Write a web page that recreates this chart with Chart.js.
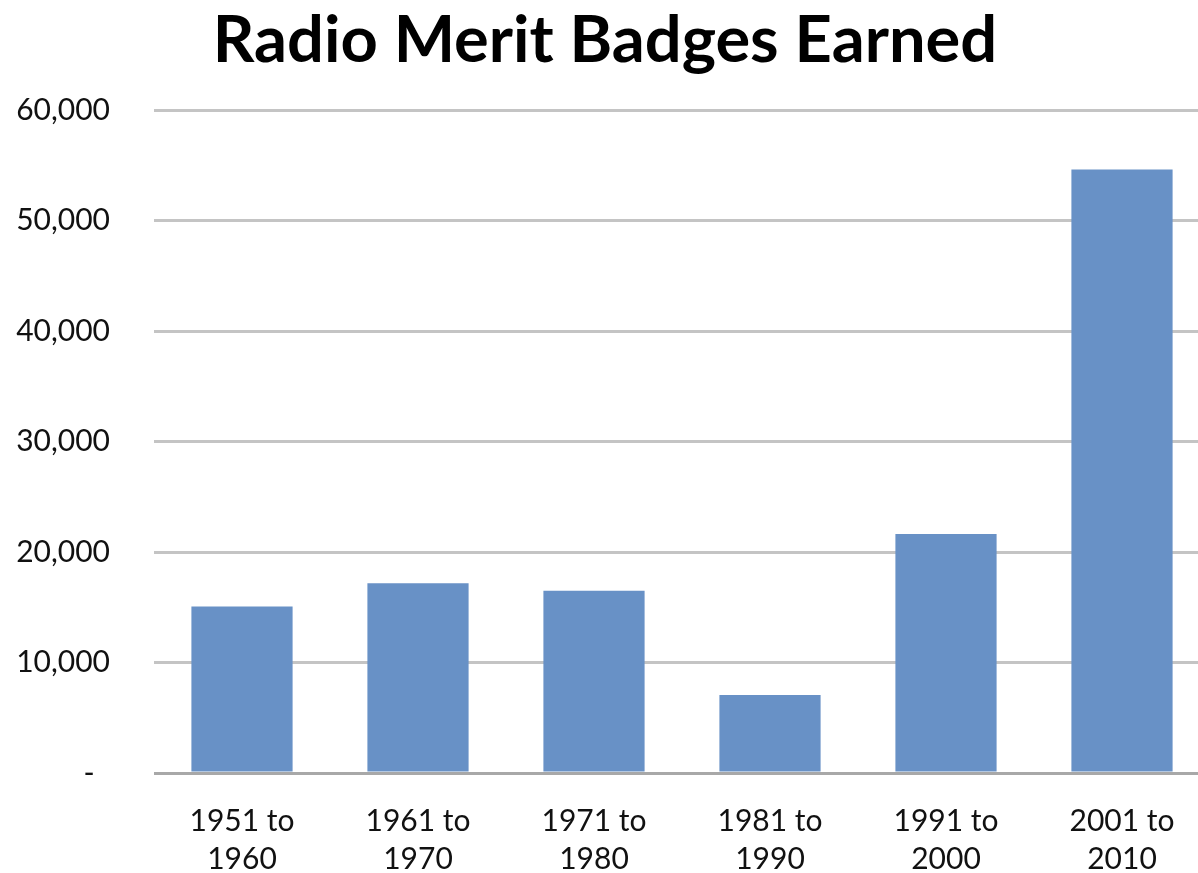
<!DOCTYPE html>
<html>
<head>
<meta charset="utf-8">
<title>Radio Merit Badges Earned</title>
<script src="https://cdn.jsdelivr.net/npm/chart.js@4/dist/chart.umd.min.js"></script>
<style>
    html, body { margin: 0; padding: 0; background: #fff; overflow: hidden; }
    #wrap { width: 1210px; height: 873px; }
</style>
</head>
<body>
<div id="wrap"><canvas id="badgeChart" width="1210" height="873"></canvas></div>
<script>
const decades = [
    ['1951 to', '1960'],
    ['1961 to', '1970'],
    ['1971 to', '1980'],
    ['1981 to', '1990'],
    ['1991 to', '2000'],
    ['2001 to', '2010']
];
const badgesEarned = [15060, 17180, 16490, 7070, 21620, 54620];
const yTicks = [0, 10000, 20000, 30000, 40000, 50000, 60000];

const fontFamily = 'Lato, "Open Sans", sans-serif';

const ctx = document.getElementById('badgeChart').getContext('2d');
new Chart(ctx, {
    type: 'bar',
    data: {
        labels: decades,
        datasets: [{
            label: 'Badges earned',
            data: badgesEarned,
            backgroundColor: '#6891c6',
            borderWidth: 0,
            barPercentage: 0.575,
            categoryPercentage: 1
        }]
    },
    options: {
        responsive: false,
        animation: false,
        layout: { padding: 0 },
        plugins: {
            legend: { display: false },
            tooltip: { enabled: false },
            title: {
                display: true,
                text: 'Radio Merit Badges Earned',
                color: '#000',
                font: { family: fontFamily, size: 65, weight: 'bold', lineHeight: 1.2 },
                padding: { top: 2, bottom: 30 }
            }
        },
        scales: {
            x: {
                grid: { display: false, drawTicks: false },
                border: { display: false },
                ticks: {
                    color: '#111',
                    font: { family: fontFamily, size: 30, lineHeight: 1.27 },
                    padding: 29,
                    maxRotation: 0,
                    autoSkip: false
                },
                afterFit: scale => { scale.height = 100; }
            },
            y: {
                min: 0,
                max: 60000,
                afterBuildTicks: scale => { scale.ticks = yTicks.map(v => ({ value: v })); },
                grid: {
                    drawTicks: false,
                    lineWidth: 3,
                    color: c => c.tick && c.tick.value === 0 ? '#a8a8a8' : '#c4c4c4'
                },
                border: { display: false },
                ticks: {
                    color: '#111',
                    font: { family: fontFamily, size: 30 },
                    padding: 44,
                    callback: v => v === 0 ? '-  ' : v.toLocaleString('en-US')
                },
                afterFit: scale => { scale.width = 154; }
            }
        }
    }
});
</script>
</body>
</html>
